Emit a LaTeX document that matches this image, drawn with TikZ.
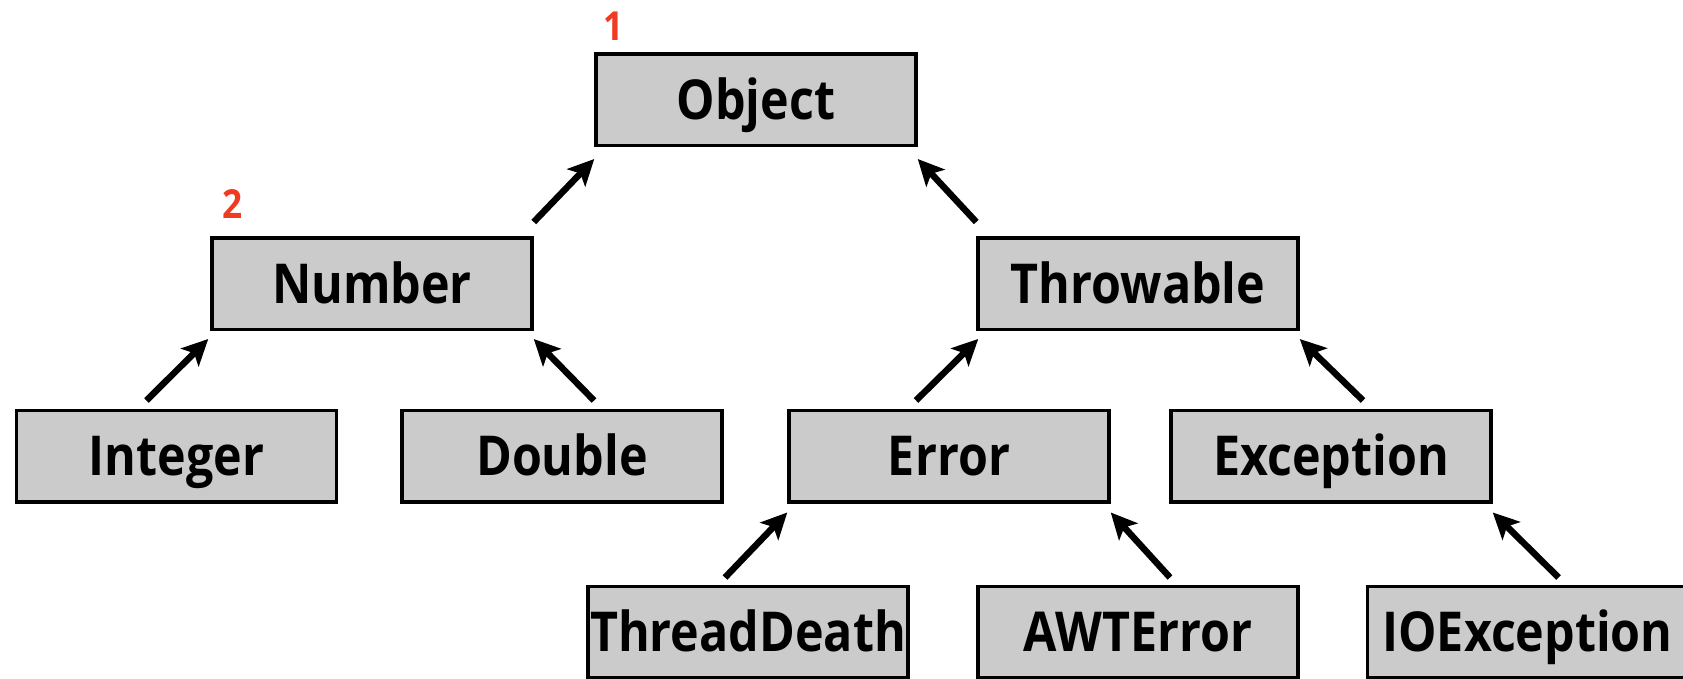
\documentclass[tikz,border=0pt]{standalone}
\usepackage{fontspec}
\setmainfont{Open Sans}[FakeStretch=0.88]
\usetikzlibrary{arrows.meta,calc}
\definecolor{boxgray}{RGB}{203,203,203}
\definecolor{numred}{RGB}{240,58,34}
\begin{document}
\begin{tikzpicture}[x=1pt,y=-1pt,
  cls/.style={draw=black, line width=3.5pt, fill=boxgray, minimum width=320pt,
    minimum height=91.5pt, inner sep=0pt, text height=39pt, text depth=0pt,
    font=\fontsize{55}{60}\selectfont\bfseries},
  arr/.style={-{Stealth[length=26pt,width=25pt,inset=6pt]}, line width=6.5pt},
  num/.style={text=numred, inner sep=0pt, font=\fontsize{40}{44}\selectfont\bfseries}]
\useasboundingbox (0,0) rectangle (1683,678);
\clip (0,0) rectangle (1683,678);
\node[cls] (object) at (756,99.5) {Object};
\node[cls] (number) at (372,283.5) {Number};
\node[cls] (throwable) at (1138,283.5) {Throwable};
\node[cls] (integer) at (176.5,456) {Integer};
\node[cls] (double) at (562,456) {Double};
\node[cls] (error) at (949,456) {Error};
\node[cls] (exception) at (1331,456) {Exception};
\node[cls] (threaddeath) at (748,632) {ThreadDeath};
\node[cls] (awterror) at (1138,632) {AWTError};
\node[cls] (ioexception) at (1527.5,632) {IOException};
\node[num] (n1) at (614,26) {1};
\node[num] (n2) at (233,204) {2};
\draw[arr] ($(number.north east)+(0,-14)$) -- ($(object.south west)+(0,12)$);
\draw[arr] ($(throwable.north west)+(0,-14)$) -- ($(object.south east)+(0,12)$);
\draw[arr] ($(integer.north)+(-30,-8)$) -- ($(number.south west)+(-2,8)$);
\draw[arr] ($(double.north)+(32,-8)$) -- ($(number.south east)+(0,8)$);
\draw[arr] ($(error.north)+(-33,-8)$) -- ($(throwable.south west)+(2,8)$);
\draw[arr] ($(exception.north)+(32,-8)$) -- ($(throwable.south east)+(0,8)$);
\draw[arr] ($(threaddeath.north)+(-23,-7)$) -- ($(error.south west)+(0,9)$);
\draw[arr] ($(awterror.north)+(32,-7)$) -- ($(error.south east)+(0,9)$);
\draw[arr] ($(ioexception.north)+(31,-7)$) -- ($(exception.south east)+(0,9)$);
\end{tikzpicture}
\end{document}
